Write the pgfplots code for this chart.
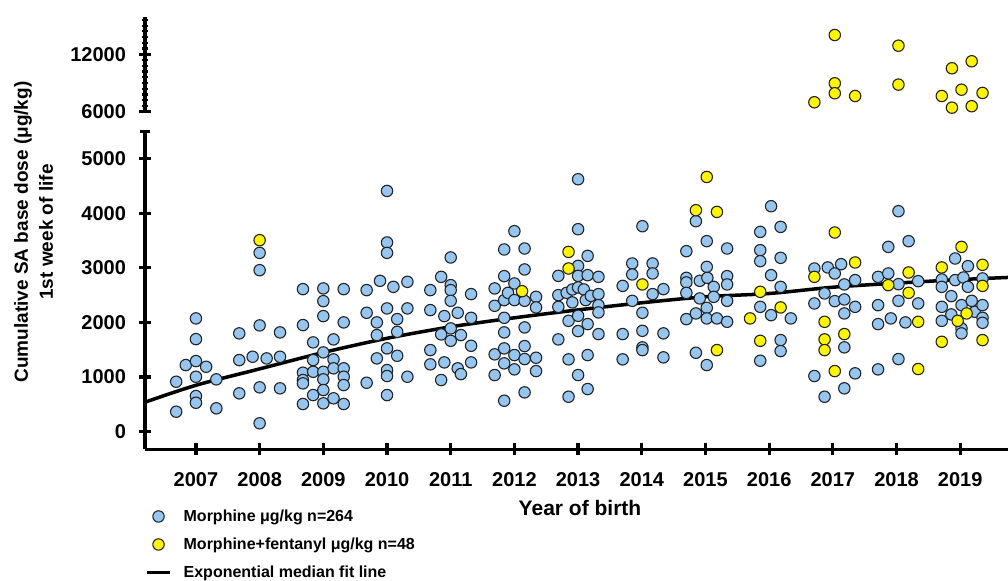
\documentclass[border=0pt]{standalone}
\usepackage{fontspec}
\setmainfont{Liberation Sans}
\usepackage{pgfplots}
\pgfplotsset{compat=1.18}
\usepackage{pgfplotstable}

\definecolor{mblue}{RGB}{150,198,240}
\definecolor{fyellow}{RGB}{255,245,0}
\definecolor{edge}{RGB}{35,35,35}

% Morphine, one row per infant
\pgfplotstableread{
x y
2006.69 366
2006.69 915
2006.84 1220
2007.00 2074
2007.00 1695
2007.00 1293
2007.00 1006
2007.00 653
2007.00 530
2007.16 1189
2007.32 958
2007.32 428
2007.68 1800
2007.68 1311
2007.68 702
2007.89 1372
2008.00 3274
2008.00 2957
2008.00 1946
2008.00 812
2008.00 154
2008.11 1342
2008.32 1818
2008.32 1372
2008.32 794
2008.68 2610
2008.68 1952
2008.68 1080
2008.68 946
2008.68 885
2008.68 507
2008.84 1635
2008.84 1311
2008.84 1097
2008.84 671
2009.00 2623
2009.00 2390
2009.00 2116
2009.00 1452
2009.00 1097
2009.00 958
2009.00 763
2009.00 519
2009.16 1690
2009.16 1324
2009.16 1160
2009.16 611
2009.32 2610
2009.32 2001
2009.32 1160
2009.32 1006
2009.32 854
2009.32 507
2009.68 2592
2009.68 2177
2009.68 896
2009.84 2001
2009.84 1769
2009.84 1342
2009.89 2762
2010.00 4408
2010.00 3464
2010.00 3274
2010.00 2257
2010.00 1525
2010.00 1128
2010.00 1019
2010.00 671
2010.10 2652
2010.16 2061
2010.16 1829
2010.16 1390
2010.32 2744
2010.32 2257
2010.32 1006
2010.68 2592
2010.68 2226
2010.68 1494
2010.68 1233
2010.85 2835
2010.85 1781
2010.85 946
2010.90 2116
2010.90 1269
2011.00 3190
2011.00 2683
2011.00 2592
2011.00 2396
2011.00 1891
2011.00 1664
2011.11 2177
2011.11 1160
2011.16 1769
2011.16 1055
2011.32 2519
2011.32 2085
2011.32 1573
2011.32 1269
2011.69 2623
2011.69 2305
2011.69 1416
2011.69 1037
2011.84 3336
2011.84 2848
2011.84 2409
2011.84 2085
2011.84 1818
2011.84 1525
2011.84 1251
2011.84 567
2011.90 2542
2012.00 3671
2012.00 2714
2012.00 2409
2012.00 1403
2012.00 1141
2012.16 3354
2012.16 2970
2012.16 2396
2012.16 1909
2012.16 1567
2012.16 1330
2012.16 720
2012.34 2469
2012.34 2275
2012.34 1354
2012.34 1110
2012.69 2853
2012.69 2500
2012.69 2286
2012.69 1690
2012.82 2542
2012.85 2030
2012.85 1324
2012.85 640
2012.91 2367
2012.91 2604
2013.00 4622
2013.00 3707
2013.00 3036
2013.00 2853
2013.00 2641
2013.00 2122
2013.00 1842
2013.00 1037
2013.09 2604
2013.12 2409
2013.15 3219
2013.15 2866
2013.15 1970
2013.15 1403
2013.15 781
2013.20 2487
2013.32 2835
2013.32 2519
2013.32 2317
2013.32 2184
2013.32 1787
2013.70 2670
2013.70 1787
2013.70 1324
2013.85 3080
2013.85 2879
2013.85 2396
2014.01 3762
2014.01 2177
2014.01 1847
2014.01 1544
2014.01 1494
2014.17 3080
2014.17 2897
2014.17 2519
2014.34 2610
2014.34 1800
2014.34 1361
2014.70 3305
2014.70 2817
2014.70 2733
2014.70 2542
2014.70 2061
2014.85 3854
2014.85 2165
2014.85 1445
2014.91 2762
2014.91 2440
2015.02 3488
2015.02 3018
2015.02 2268
2015.02 2074
2015.02 1220
2015.03 2817
2015.13 2652
2015.13 2469
2015.18 2074
2015.34 3354
2015.34 2848
2015.34 2696
2015.34 2396
2015.34 2012
2015.86 3658
2015.86 3323
2015.86 3122
2015.86 2286
2015.86 1299
2016.03 4128
2016.03 2866
2016.03 2134
2016.18 3750
2016.18 3183
2016.18 2652
2016.18 1677
2016.18 1476
2016.34 2074
2016.71 2988
2016.71 2348
2016.71 1019
2016.87 2531
2016.87 640
2016.92 3007
2017.03 2897
2017.03 2390
2017.13 3067
2017.18 2696
2017.18 2421
2017.18 2165
2017.18 1544
2017.18 794
2017.35 2775
2017.35 2286
2017.35 1068
2017.71 2835
2017.71 2317
2017.71 1970
2017.71 1141
2017.87 3384
2017.87 2897
2017.91 2074
2018.03 4037
2018.03 2701
2018.03 2396
2018.03 1330
2018.14 2001
2018.19 3488
2018.34 2756
2018.34 2348
2018.71 2787
2018.71 2652
2018.71 2286
2018.71 2030
2018.86 2482
2018.86 2147
2018.92 3171
2018.92 2775
2019.05 2823
2019.02 2317
2019.02 1891
2019.02 1800
2019.12 3031
2019.12 2652
2019.18 2396
2019.23 2195
2019.35 2806
2019.35 2317
2019.35 2085
2019.35 1994
}\morphine

% Morphine+fentanyl below the break
\pgfplotstableread{
x y
2008.00 3506
2012.12 2573
2012.85 3292
2012.85 2988
2014.01 2696
2014.85 4055
2015.02 4664
2015.18 4024
2015.18 1494
2015.70 2074
2015.86 2561
2015.86 1664
2016.18 2275
2016.71 2835
2016.87 2012
2016.87 1690
2016.87 1494
2017.03 3647
2017.03 1110
2017.18 1787
2017.35 3098
2017.87 2683
2018.19 2915
2018.19 2542
2018.34 2012
2018.34 1147
2018.71 3007
2018.71 1646
2018.96 2030
2019.02 3384
2019.10 2165
2019.35 3055
2019.35 2670
2019.35 1677
}\fentlow

% Morphine+fentanyl above the break
\pgfplotstableread{
x y
2016.71 6984
2017.03 14017
2017.03 8970
2017.03 7925
2017.35 7640
2018.03 12900
2018.03 8830
2018.71 7640
2018.87 10540
2018.87 6420
2019.02 8300
2019.18 11270
2019.18 6570
2019.35 7960
}\fenthigh

% exponential median fit
\pgfplotstableread{
x y
2006.20 540
2007 850
2008 1150
2009 1450
2010 1710
2011 1920
2012 2085
2013 2230
2014 2360
2015 2470
2016 2530
2017 2645
2018 2720
2019 2785
2019.75 2824
}\fitline

\pgfplotsset{
  gp/.style={
    scale only axis, width=431.5pt,
    xmin=2006.2, xmax=2019.75,
    clip=false,
    tick style={line width=1.6pt,black},
    minor tick style={line width=1.1pt},
    major tick length=6pt, minor tick length=2.6pt,
    tick align=outside,
    scaled y ticks=false,
    /pgf/number format/assume math mode=true,
    /pgf/number format/set thousands separator={},
    ticklabel style={font=\bfseries\fontsize{10}{12}\selectfont},
    yticklabel style={xshift=-3pt},
    xticklabel style={yshift=-5pt},
  },
  plainlines/.style={
    axis line style={line width=1.6pt,-},
    every outer x axis line/.append style={-},
    every outer y axis line/.append style={-},
    every inner x axis line/.append style={-},
    every inner y axis line/.append style={-},
  },
  dot/.style={only marks, mark=*, mark size=2.85pt,
    mark options={draw=edge, line width=0.55pt, fill=#1},
    legend image code/.code={\draw[mark repeat=2,mark phase=2,##1] plot coordinates {(0cm,0cm) (0.2cm,0cm) (0.4cm,0cm)};}},
  fit/.style={black, line width=1.75pt, smooth,
    legend image code/.code={\draw[##1] (0cm,0cm) -- (0.4cm,0cm);}},
}

\begin{document}
\begin{tikzpicture}
\begin{axis}[gp,
  at={(72.5pt,65.85pt)}, anchor=south west, height=159pt,
  ymin=-322, ymax=5500,
  axis x line=bottom, axis y line=left, plainlines,
  xtick={2007,2008,...,2019},
  ytick={0,1000,...,5000},
  extra y ticks={5500}, extra y tick labels={},
  extra y tick style={tick align=center, major tick length=5pt},
  legend cell align=left,
  legend style={at={(0,-0.188)}, anchor=north west, draw=none, fill=none,
    inner sep=0pt, row sep=7pt, column sep=6pt,
    font=\bfseries\fontsize{8}{9.6}\selectfont,
    nodes={inner sep=0pt, text height=6pt, text depth=1pt}},
]
\addplot[dot=mblue] table {\morphine};
\addlegendentry{Morphine μg/kg n=264}
\addplot[dot=fyellow] table {\fentlow};
\addlegendentry{Morphine+fentanyl μg/kg n=48}
\addplot[fit] table {\fitline};
\addlegendentry{Exponential median fit line}
\end{axis}

\begin{axis}[gp,
  at={(72.5pt,234.65pt)}, anchor=south west, height=47.35pt,
  ymin=6000, ymax=15900,
  axis x line=none, axis y line=left, plainlines,
  ytick={6000,12000},
  minor ytick={6600,7200,...,15600},
  extra y ticks={6000}, extra y tick labels={},
  extra y tick style={tick align=center, major tick length=5pt},
]
\addplot[dot=fyellow] table {\fenthigh};
\end{axis}

\node[rotate=90, align=center, font=\bfseries\fontsize{9.5}{12.5}\selectfont]
  at (16.75pt,174.5pt) {Cumulative SA base dose (μg/kg)\\1st week of life};
\node[font=\bfseries\fontsize{10.5}{12}\selectfont] at (290pt,36.5pt) {Year of birth};

\pgfresetboundingbox
\useasboundingbox (0,0) rectangle (504pt,290.5pt);
\end{tikzpicture}
\end{document}
